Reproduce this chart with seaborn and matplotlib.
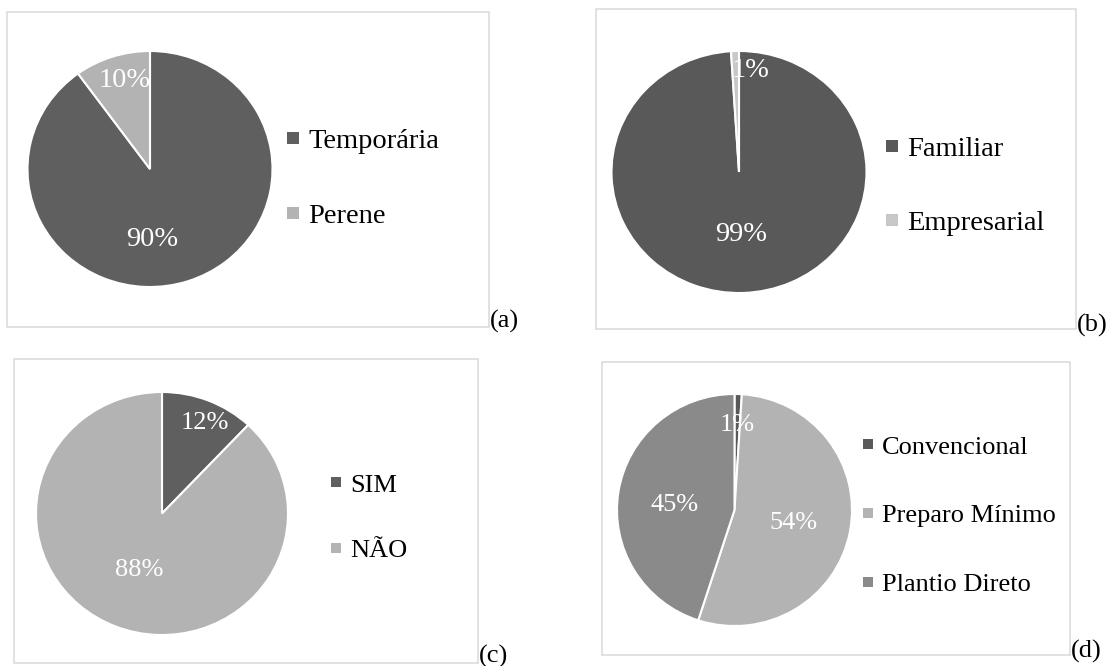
import matplotlib
matplotlib.use("Agg")
import matplotlib.pyplot as plt
from matplotlib.patches import Rectangle
from matplotlib.lines import Line2D
import seaborn as sns

sns.set_theme(style="white")
plt.rcParams["font.family"] = ["Liberation Serif", "DejaVu Serif"]

# ---- data -------------------------------------------------------------
cultura_labels = ["Temporária", "Perene"]
cultura_values = [90, 10]
cultura_colors = ["#5f5f5f", "#b3b3b3"]

agricultura_labels = ["Familiar", "Empresarial"]
agricultura_values = [99, 1]
agricultura_colors = ["#595959", "#c8c8c8"]

resposta_labels = ["SIM", "NÃO"]
resposta_values = [12, 88]
resposta_colors = ["#5f5f5f", "#b3b3b3"]

preparo_labels = ["Convencional", "Preparo Mínimo", "Plantio Direto"]
preparo_values = [1, 54, 45]
preparo_colors = ["#595959", "#b3b3b3", "#8a8a8a"]

panel_tags = ["(a)", "(b)", "(c)", "(d)"]

# ---- layout (pixels on a 1110 x 666 canvas) ---------------------------
W, H, DPI = 1110, 666, 100

panels = [
    dict(labels=cultura_labels, values=cultura_values, colors=cultura_colors,
         box=(7, 12, 489, 327), center=(150, 169), r=(122.5, 118),
         pct_pos=[(0.02, -0.60), (-0.21, 0.75)],
         leg_x=293, leg_y=178.5, leg_space=1.71, fs=20.5, msize=8.0,
         tag_xy=(490, 321)),
    dict(labels=agricultura_labels, values=agricultura_values, colors=agricultura_colors,
         box=(596, 9, 1076, 329), center=(739, 172), r=(127.5, 121),
         pct_pos=[(0.02, -0.52), (0.09, 0.84)],
         leg_x=892, leg_y=186, leg_space=1.67, fs=20.5, msize=8.0,
         tag_xy=(1077, 325)),
    dict(labels=resposta_labels, values=resposta_values, colors=resposta_colors,
         box=(14, 359, 478, 663), center=(162, 513.5), r=(126, 121.5),
         pct_pos=[(0.34, 0.745), (-0.18, -0.465)],
         leg_x=336, leg_y=517.5, leg_space=1.59, fs=19, msize=7.5,
         tag_xy=(479, 656)),
    dict(labels=preparo_labels, values=preparo_values, colors=preparo_colors,
         box=(602, 362, 1070, 655), center=(734.5, 510), r=(117.5, 116),
         pct_pos=[(0.02, 0.73), (0.50, -0.11), (-0.51, 0.04)],
         leg_x=868, leg_y=515.5, leg_space=1.71, fs=19, msize=7.2,
         tag_xy=(1071, 651)),
]


def fx(x):
    return x / W


def fy(y):
    return 1 - y / H


fig = plt.figure(figsize=(W / DPI, H / DPI), dpi=DPI)
fig.patch.set_facecolor("white")

for p, tag in zip(panels, panel_tags):
    x0, y0, x1, y1 = p["box"]
    # light frame around each chart
    fig.add_artist(Rectangle((fx(x0), fy(y1)), fx(x1) - fx(x0), fy(y0) - fy(y1),
                             transform=fig.transFigure, fill=False,
                             edgecolor="#d9d9d9", linewidth=1.1))

    cx, cy = p["center"]
    rh, rv = p["r"]
    ax = fig.add_axes([fx(cx - rh), fy(cy + rv), 2 * rh / W, 2 * rv / H])
    wedges, _, pcts = ax.pie(
        p["values"], colors=p["colors"], startangle=90, counterclock=False,
        autopct="%1.0f%%", radius=1.0,
        wedgeprops=dict(edgecolor="white", linewidth=1.5),
        textprops=dict(color="white", fontsize=p["fs"]))
    ax.set_xlim(-1, 1)
    ax.set_ylim(-1, 1)
    ax.set_aspect("auto")
    ax.axis("off")
    for t, pos in zip(pcts, p["pct_pos"]):
        t.set_position(pos)
        t.set_ha("center")
        t.set_va("center")

    # legend with small square keys
    fs_px = p["fs"] * DPI / 72
    hl = 0.5
    handles = [Line2D([], [], marker="s", linestyle="none", markersize=p["msize"],
                      markerfacecolor=c, markeredgewidth=0)
               for c in p["colors"]]
    fig.legend(handles, p["labels"], loc="center left",
               bbox_to_anchor=(fx(p["leg_x"] - hl * fs_px / 2), fy(p["leg_y"])),
               frameon=False, borderpad=0, borderaxespad=0,
               handlelength=hl, handletextpad=0.29,
               labelspacing=p["leg_space"], fontsize=p["fs"],
               labelcolor="black")

    tx, ty = p["tag_xy"]
    fig.text(fx(tx), fy(ty), tag, ha="left", va="center", fontsize=19,
             color="black")

fig.savefig("out.png", dpi=DPI, facecolor="white")
